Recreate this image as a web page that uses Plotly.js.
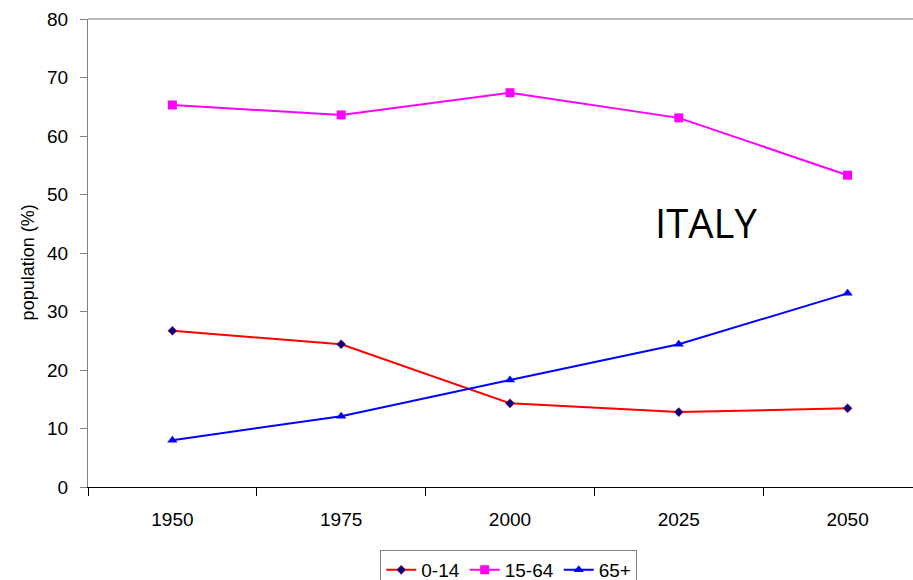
<!DOCTYPE html>
<html>
<head>
<meta charset="utf-8">
<script src="https://cdn.plot.ly/plotly-3.0.1.min.js"></script>
<style>html,body{margin:0;padding:0;background:#fff;}#chart{width:913px;height:580px;}</style>
</head>
<body>
<div id="chart"></div>
<script>
const years = ['1950', '1975', '2000', '2025', '2050'];
const age0_14 = [26.7, 24.4, 14.3, 12.8, 13.45];
const age15_64 = [65.3, 63.6, 67.4, 63.1, 53.3];
const age65plus = [8.0, 12.1, 18.3, 24.4, 33.1];
const yTicks = [0, 10, 20, 30, 40, 50, 60, 70, 80];

const traces = [
  {x: years, y: age0_14, name: '0-14', type: 'scatter', mode: 'lines+markers',
   line: {color: '#ff0000', width: 2},
   marker: {symbol: 'diamond', size: 7, color: '#000080', line: {color: '#ff0000', width: 0.5}}},
  {x: years, y: age15_64, name: '15-64', type: 'scatter', mode: 'lines+markers',
   line: {color: '#ff00ff', width: 2},
   marker: {symbol: 'square', size: 9, color: '#ff00ff'}},
  {x: years, y: age65plus, name: '65+', type: 'scatter', mode: 'lines+markers',
   line: {color: '#0000ff', width: 2},
   marker: {symbol: 'triangle-up', size: 9, color: '#0000ff'}}
];

const FONT = 'Liberation Sans, Arial, sans-serif';

const layout = {
  width: 913, height: 580,
  margin: {l: 88, r: 0, t: 19, b: 93, pad: 0, autoexpand: false},
  paper_bgcolor: '#ffffff', plot_bgcolor: '#ffffff',
  font: {family: FONT, size: 19, color: '#000000'},
  showlegend: true,
  legend: {orientation: 'h', x: 0.51, xanchor: 'center', y: -0.1346, yanchor: 'top',
           bgcolor: '#ffffff', bordercolor: '#808080', borderwidth: 1,
           font: {family: FONT, size: 19, color: '#000'},
           itemwidth: 30, tracegroupgap: 0},
  xaxis: {type: 'category', categoryorder: 'array', categoryarray: years,
          range: [-0.5, 4.3876], showgrid: false, zeroline: false,
          showline: true, linecolor: '#000000', linewidth: 1,
          ticks: 'outside', tickson: 'boundaries', ticklen: 8, tickcolor: '#000000', tickwidth: 1,
          ticklabelstandoff: 15,
          tickfont: {family: FONT, size: 19, color: '#000'},
          fixedrange: true},
  yaxis: {range: [0, 80], tickvals: yTicks, ticktext: yTicks.map(String),
          showgrid: false, zeroline: false,
          showline: true, linecolor: '#808080', linewidth: 1,
          ticks: 'outside', ticklen: 7, tickcolor: '#808080', tickwidth: 1,
          ticklabelstandoff: 8,
          tickfont: {family: FONT, size: 19, color: '#000'},
          fixedrange: true},
  shapes: [
    {type: 'line', xref: 'paper', yref: 'paper', x0: 0, x1: 1, y0: 1, y1: 1,
     line: {color: '#a0a0a0', width: 1.5}}
  ],
  annotations: [
    {text: 'population (%)', xref: 'paper', yref: 'paper', x: -0.0727, y: 0.48,
     xanchor: 'center', yanchor: 'middle', showarrow: false, textangle: -90,
     font: {family: FONT, size: 18, color: '#000'}},
    {text: 'ITALY', xref: 'paper', yref: 'paper', x: 0.749, y: 0.566,
     xanchor: 'center', yanchor: 'middle', showarrow: false,
     font: {family: 'Open Sans, sans-serif', size: 40, color: '#000'}}
  ]
};

Plotly.newPlot('chart', traces, layout, {displayModeBar: false, staticPlot: true});
</script>
</body>
</html>
